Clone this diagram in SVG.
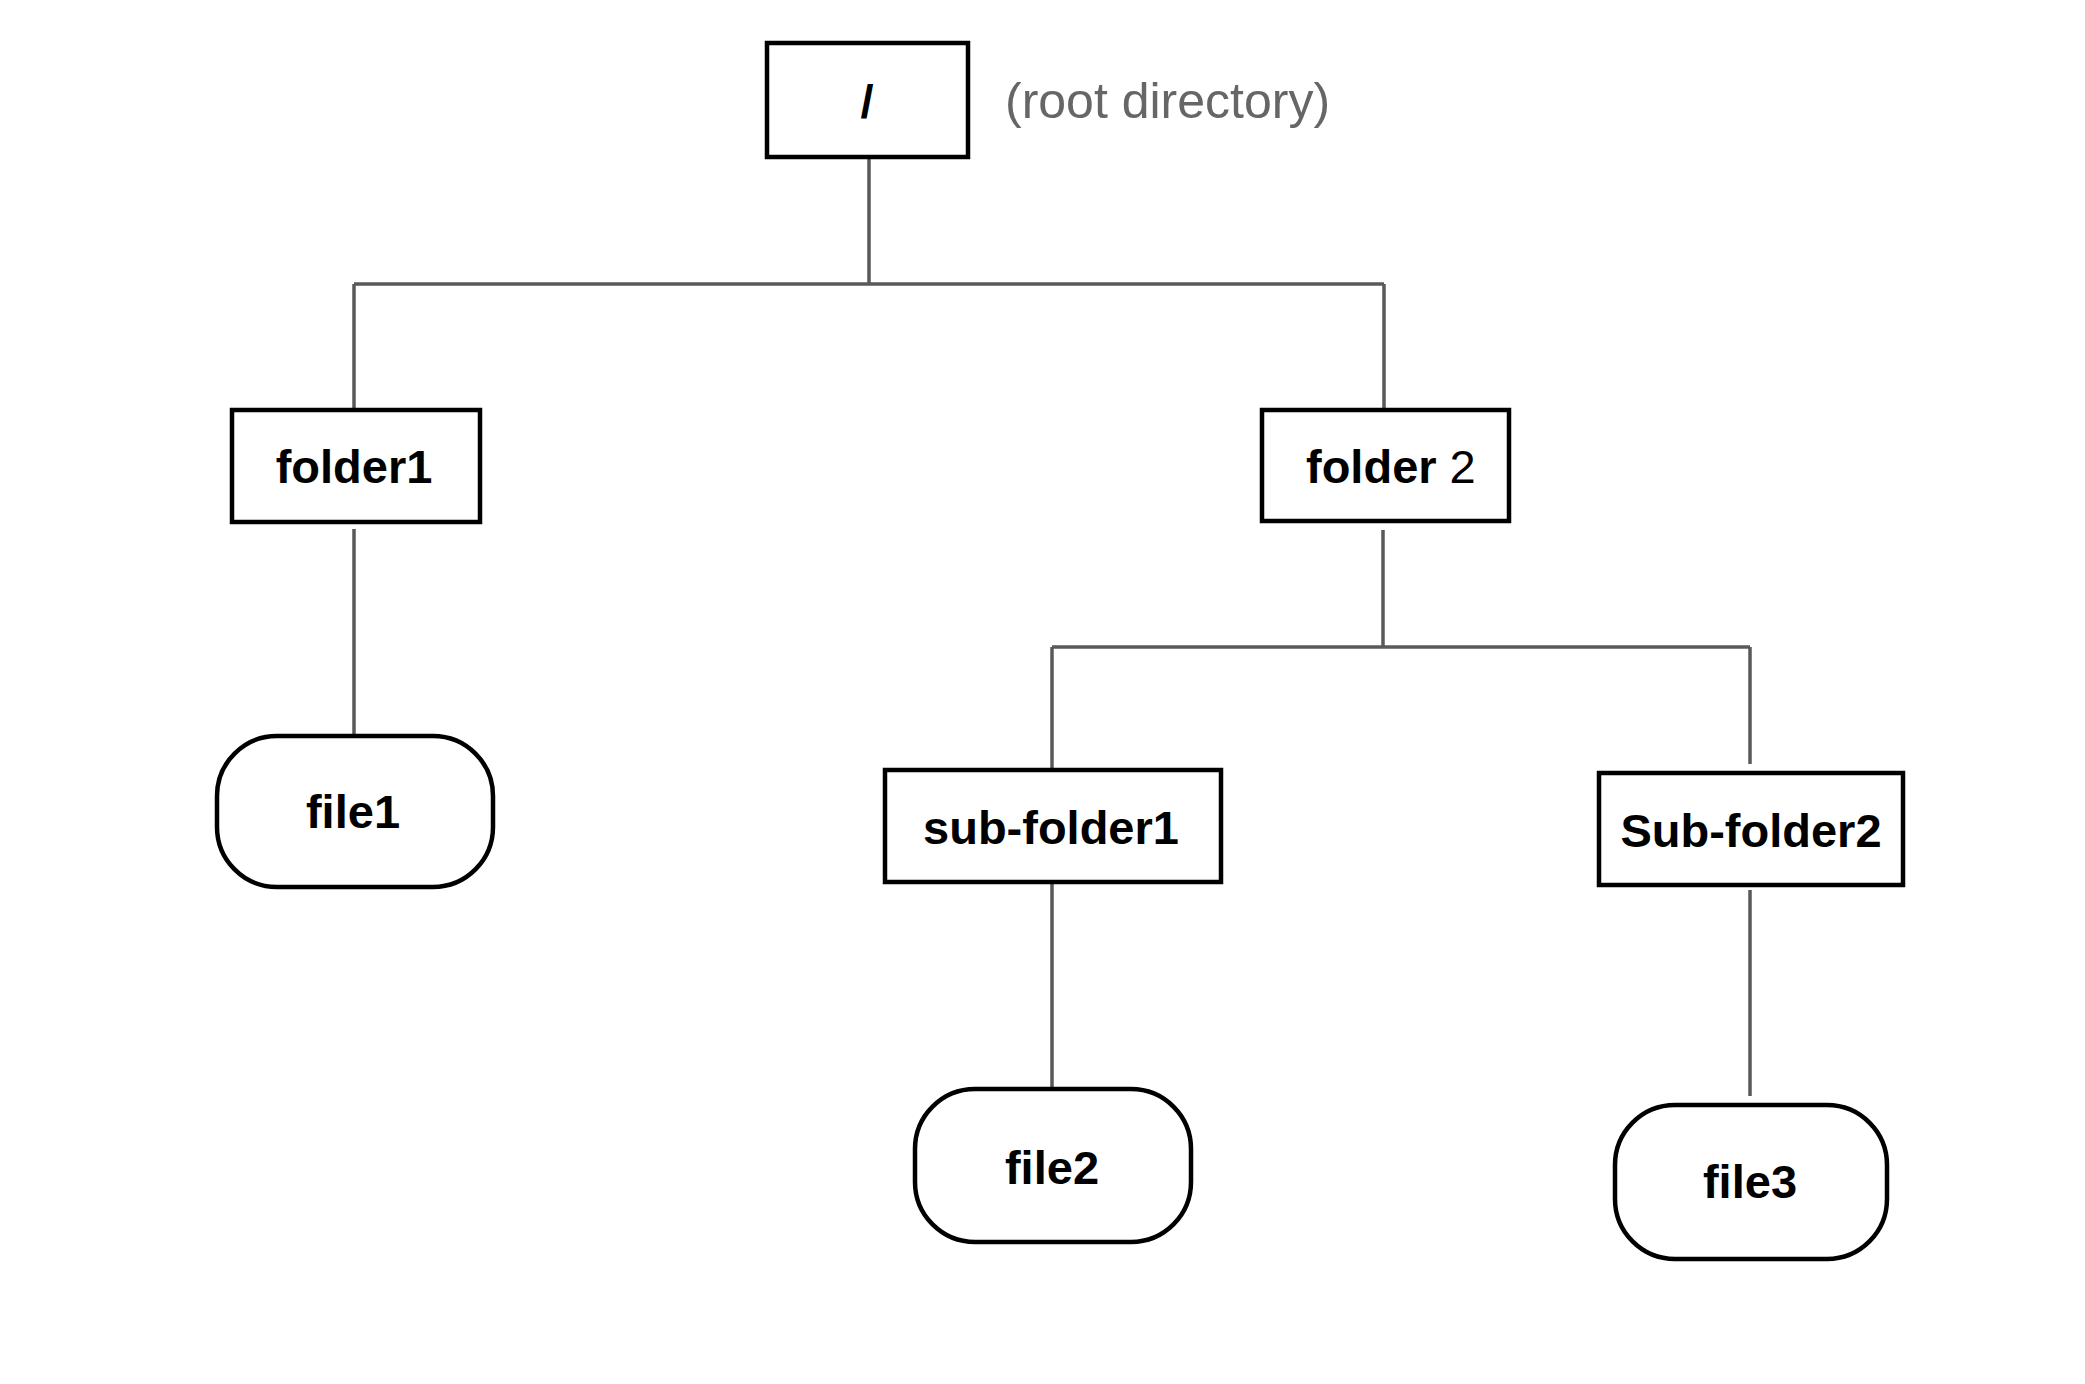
<svg xmlns="http://www.w3.org/2000/svg" width="2085" height="1384" viewBox="0 0 2085 1384">
<style>
.node{fill:#ffffff;stroke:#000000;stroke-width:4.5}
.lbl{font-family:"Liberation Sans",Arial,Helvetica,sans-serif;font-weight:bold;font-size:47px;fill:#000000;text-anchor:middle}
.note{font-family:"Liberation Sans",Arial,Helvetica,sans-serif;font-size:50px;fill:#666666}
.conn{fill:none;stroke:#595959;stroke-width:3.5}
</style>
<rect width="2085" height="1384" fill="#ffffff"/>
<g id="connectors">
<path class="conn" d="M869 159 V284 M354 284 H1384 M354 284 V408 M1384 284 V408"/>
<path class="conn" d="M354 529 V734"/>
<path class="conn" d="M1383 530 V647 M1052 647 H1750 M1052 647 V768 M1750 647 V764"/>
<path class="conn" d="M1052 884 V1087"/>
<path class="conn" d="M1750 890 V1096"/>
</g>
<g id="root">
<rect class="node" x="767" y="43" width="201" height="114"/>
<text class="lbl" x="867" y="118">/</text>
</g>
<g id="root-note">
<text class="note" x="1005" y="118">(root directory)</text>
</g>
<g id="folder1">
<rect class="node" x="232" y="410" width="248" height="112"/>
<text class="lbl" x="354" y="483">folder1</text>
</g>
<g id="folder2">
<rect class="node" x="1262" y="410" width="247" height="111"/>
<text class="lbl" x="1306" y="483" style="text-anchor:start">folder<tspan font-weight="normal"> 2</tspan></text>
</g>
<g id="file1">
<rect class="node" x="217" y="736" width="276" height="151" rx="60" ry="60"/>
<text class="lbl" x="353" y="828">file1</text>
</g>
<g id="sub-folder1">
<rect class="node" x="885" y="770" width="336" height="112"/>
<text class="lbl" x="1051" y="844">sub-folder1</text>
</g>
<g id="sub-folder2">
<rect class="node" x="1599" y="773" width="304" height="112"/>
<text class="lbl" x="1751" y="847">Sub-folder2</text>
</g>
<g id="file2">
<rect class="node" x="915" y="1089" width="276" height="153" rx="60" ry="60"/>
<text class="lbl" x="1052" y="1184">file2</text>
</g>
<g id="file3">
<rect class="node" x="1615" y="1105" width="272" height="154" rx="60" ry="60"/>
<text class="lbl" x="1750" y="1198">file3</text>
</g>
</svg>
